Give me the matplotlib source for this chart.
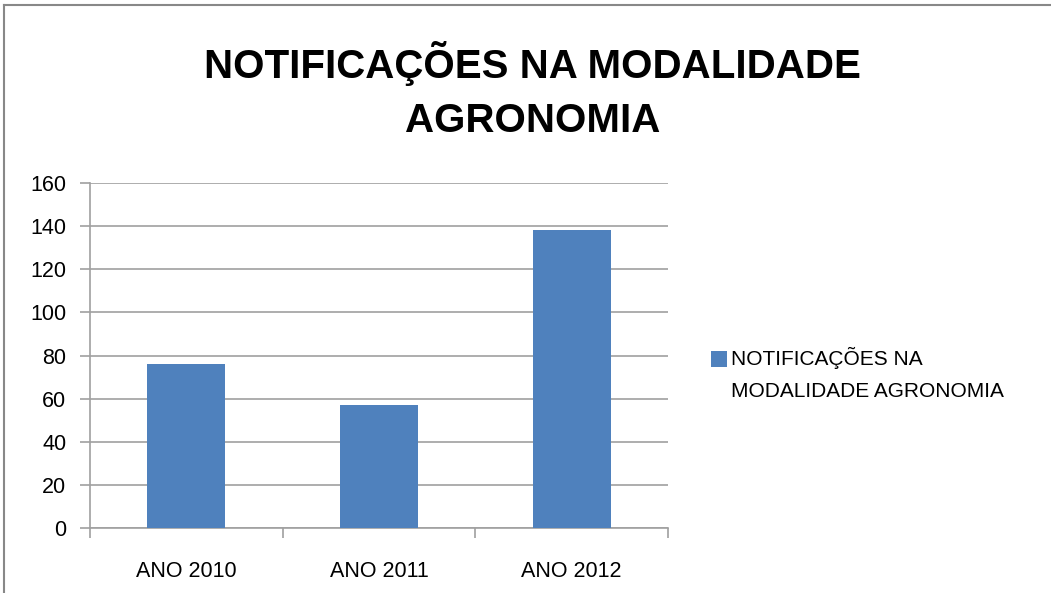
import matplotlib.pyplot as plt
from matplotlib.lines import Line2D
from matplotlib.patches import Patch, Rectangle
from matplotlib.legend_handler import HandlerPatch

# data
categories = ["ANO 2010", "ANO 2011", "ANO 2012"]
values = [76, 57, 138]
series_name = "NOTIFICAÇÕES NA\nMODALIDADE AGRONOMIA"
title = "NOTIFICAÇÕES NA MODALIDADE\nAGRONOMIA"
yticks = [0, 20, 40, 60, 80, 100, 120, 140, 160]

bar_color = "#4f81bd"
grid_color = "#a0a0a0"

plt.rcParams['font.family'] = ['Liberation Sans', 'DejaVu Sans']

fig = plt.figure(figsize=(10.51, 5.93), dpi=100)
ax = fig.add_axes([90/1051, 65/593, 578/1051, 345/593])

x = range(len(categories))
ax.bar(x, values, width=0.405, color=bar_color, zorder=3)

ax.set_xlim(-0.5, len(categories) - 0.5)
ax.set_ylim(0, 160)
ax.set_yticks(yticks)
ax.yaxis.grid(True, color=grid_color, linewidth=1.2)
ax.set_axisbelow(True)

for s in ["top", "right"]:
    ax.spines[s].set_visible(False)
for s in ["left", "bottom"]:
    ax.spines[s].set_color(grid_color)
    ax.spines[s].set_linewidth(1.2)

ax.set_xticks([i - 0.5 for i in range(len(categories) + 1)])
ax.set_xticklabels([])
ax.set_xticks(list(x), minor=True)
ax.set_xticklabels(categories, minor=True)
ax.tick_params(axis="x", which="major", length=7, color=grid_color, width=1.2)
ax.tick_params(axis="x", which="minor", length=0, labelsize=15.5, pad=24)
ax.tick_params(axis="y", length=7, color=grid_color, width=1.2, labelsize=15.5, pad=10)

fig.text(0.507, 0.847, title, ha="center", va="center", fontsize=29,
         fontweight="bold", linespacing=1.55)


# legend square sits next to the first text line, like in excel
def top_square(legend, orig_handle, xdescent, ydescent, width, height, fontsize):
    return Rectangle((-xdescent, -ydescent + 11), width, height)


handle = Patch(facecolor=bar_color, edgecolor="none")
fig.legend([handle], [series_name], loc="center left",
           bbox_to_anchor=(711/1051, 1 - 374/593), frameon=False, fontsize=15,
           handlelength=0.75, handleheight=0.75, handletextpad=0.21,
           borderpad=0, borderaxespad=0, labelspacing=0,
           handler_map={Patch: HandlerPatch(patch_func=top_square)})
for t in fig.legends[0].get_texts():
    t.set_linespacing(1.85)

# outer chart border (left and top visible)
fig.add_artist(Line2D([4/1051, 4/1051], [0, 1 - 5/593], color="#888888",
                      linewidth=1.5, transform=fig.transFigure))
fig.add_artist(Line2D([4/1051, 1], [1 - 5/593, 1 - 5/593], color="#888888",
                      linewidth=1.5, transform=fig.transFigure))

fig.savefig("out.png", dpi=100)
